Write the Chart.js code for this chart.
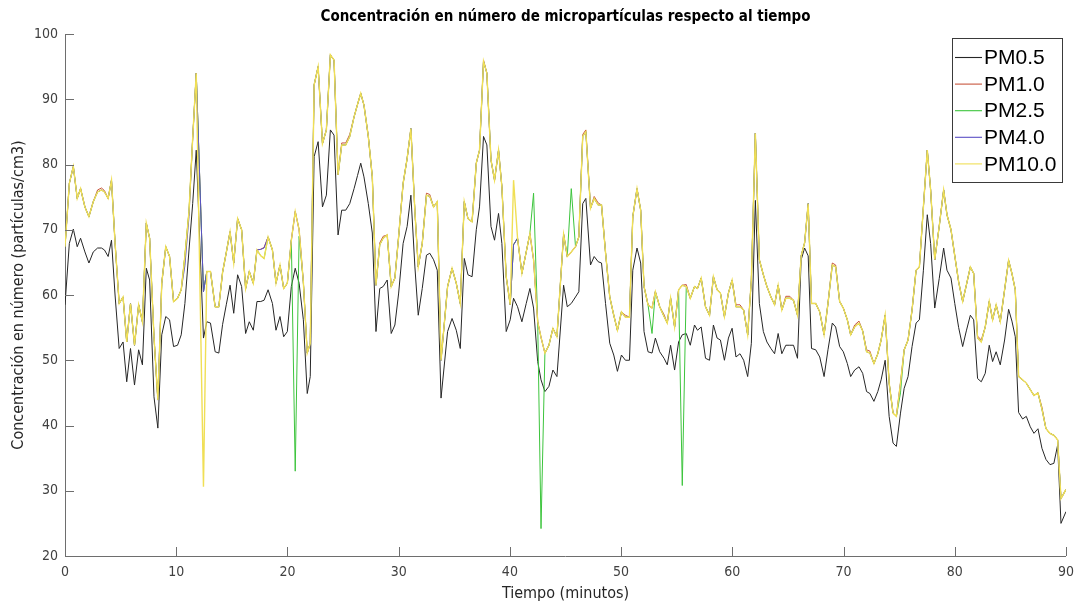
<!DOCTYPE html>
<html>
<head>
<meta charset="utf-8">
<script src="https://cdn.jsdelivr.net/npm/chart.js@4.4.1/dist/chart.umd.min.js"></script>
<style>
  html, body { margin: 0; padding: 0; background: #ffffff; }
  #wrap { width: 1082px; height: 605px; position: relative; }
</style>
</head>
<body>
<div id="wrap"><canvas id="chart" width="1082" height="605"></canvas></div>
<script>
// Sampling instants (minutes)
const minutes = [
  0.00, 0.39, 0.75, 1.10, 1.40, 1.79, 2.15, 2.54, 2.93, 3.28,
  3.55, 3.88, 4.18, 4.50, 4.87, 5.22, 5.55, 5.89, 6.25, 6.62,
  6.96, 7.31, 7.61, 8.00, 8.35, 8.70, 9.06, 9.40, 9.76, 10.12,
  10.45, 10.78, 11.15, 11.48, 11.80, 12.45, 12.75, 13.08, 13.50, 13.83,
  14.17, 14.50, 14.84, 15.17, 15.52, 15.88, 16.24, 16.57, 16.93, 17.26,
  17.60, 17.90, 18.26, 18.65, 18.97, 19.33, 19.66, 19.99, 20.35, 20.70,
  21.05, 21.43, 21.78, 22.05, 22.40, 22.76, 23.15, 23.50, 23.86, 24.19,
  24.55, 24.88, 25.24, 25.60, 25.99, 26.30, 26.59, 26.88, 27.27, 27.63,
  27.96, 28.30, 28.61, 28.97, 29.33, 29.66, 30.00, 30.40, 30.76, 31.10,
  31.46, 31.76, 32.12, 32.50, 32.80, 33.14, 33.47, 33.81, 34.40, 34.80,
  35.18, 35.54, 35.90, 36.23, 36.60, 36.98, 37.27, 37.63, 37.93, 38.30,
  38.62, 38.98, 39.28, 39.67, 40.03, 40.33, 40.69, 41.08, 41.47, 41.80,
  42.13, 42.50, 42.80, 43.15, 43.51, 43.87, 44.23, 44.83, 45.16, 45.52,
  45.90, 46.20, 46.55, 46.83, 47.25, 47.58, 47.94, 48.24, 48.60, 48.98,
  49.34, 49.67, 50.03, 50.39, 50.75, 51.05, 51.43, 51.76, 52.06, 52.42,
  52.78, 53.08, 53.47, 53.86, 54.15, 54.45, 54.81, 55.17, 55.50, 55.86,
  56.22, 56.60, 56.87, 57.20, 57.59, 57.95, 58.30, 58.63, 58.93, 59.29,
  59.65, 59.98, 60.33, 60.69, 61.02, 61.38, 61.71, 62.07, 62.43, 62.79,
  63.11, 63.47, 63.80, 64.12, 64.45, 64.81, 65.17, 65.50, 65.86, 66.19,
  66.50, 66.82, 67.12, 67.50, 67.86, 68.25, 68.60, 68.99, 69.29, 69.65,
  69.98, 70.34, 70.64, 71.00, 71.39, 71.72, 72.07, 72.37, 72.73, 73.08,
  73.38, 73.74, 74.10, 74.45, 74.75, 75.12, 75.45, 75.80, 76.16, 76.52,
  76.82, 77.18, 77.53, 77.83, 78.20, 78.60, 79.00, 79.30, 79.66, 80.00,
  80.35, 80.71, 81.04, 81.40, 81.70, 82.05, 82.38, 82.74, 83.10, 83.40,
  83.72, 84.09, 84.48, 84.84, 85.14, 85.44, 85.74, 86.10, 86.43, 86.79,
  87.12, 87.48, 87.84, 88.20, 88.56, 88.91, 89.25, 89.55, 90.00
];

// PM0.5 (particles/cm3)
const pm05 = [
  58.5, 67.9, 70.1, 67.4, 68.7, 66.6, 64.9, 66.6, 67.2, 67.2,
  66.9, 65.9, 68.4, 60.0, 51.8, 52.8, 46.7, 51.8, 46.2, 51.6,
  49.3, 64.1, 62.3, 44.4, 39.6, 53.9, 56.7, 56.2, 52.1, 52.3,
  53.9, 58.7, 66.9, 74.0, 82.2, 53.4, 55.9, 55.7, 51.3, 51.1,
  55.5, 58.5, 61.5, 57.2, 63.1, 61.3, 54.1, 55.9, 54.6, 59.0,
  59.0, 59.2, 60.8, 58.7, 54.6, 56.7, 53.6, 54.4, 61.3, 64.1,
  61.8, 56.2, 44.9, 47.5, 81.2, 83.5, 73.5, 75.3, 85.3, 84.5,
  69.2, 73.0, 73.0, 74.0, 76.3, 78.3, 80.2, 78.1, 74.0, 69.5,
  54.4, 61.0, 61.3, 62.3, 54.1, 55.4, 60.3, 67.9, 70.5, 75.3,
  64.3, 56.9, 61.0, 66.1, 66.4, 65.4, 63.8, 44.2, 54.4, 56.4,
  54.6, 51.8, 65.6, 63.1, 62.8, 70.0, 73.5, 84.3, 83.0, 70.5,
  68.4, 72.5, 67.9, 54.4, 56.2, 59.5, 58.2, 55.9, 58.7, 61.0,
  58.0, 49.8, 47.0, 45.2, 46.0, 48.5, 47.5, 61.5, 58.2, 58.7,
  59.7, 60.5, 74.0, 74.8, 64.6, 65.9, 65.1, 64.9, 58.7, 52.6,
  50.8, 48.3, 50.8, 50.0, 50.0, 63.8, 67.2, 64.9, 54.4, 51.3,
  51.1, 53.4, 51.3, 50.3, 49.3, 52.3, 48.5, 52.8, 53.9, 54.1,
  52.3, 55.4, 54.6, 55.1, 50.3, 50.0, 55.4, 53.4, 53.1, 50.0,
  53.4, 54.9, 50.5, 51.0, 50.0, 47.5, 52.6, 74.5, 58.7, 54.4,
  52.8, 51.8, 51.0, 54.1, 51.0, 52.3, 52.3, 52.3, 50.3, 65.4,
  67.2, 66.0, 51.8, 51.6, 50.5, 47.5, 51.6, 55.7, 55.1, 52.1,
  51.3, 49.5, 47.5, 48.5, 49.0, 48.0, 45.2, 44.9, 43.7, 45.2,
  47.0, 50.0, 41.4, 37.3, 36.8, 41.9, 45.7, 47.5, 52.1, 55.7,
  56.2, 63.8, 72.3, 67.9, 58.0, 62.5, 67.2, 63.8, 62.6, 58.7,
  55.0, 52.1, 54.5, 56.9, 56.2, 47.2, 46.7, 48.0, 52.3, 49.8,
  51.3, 49.3, 53.1, 57.8, 56.0, 53.6, 42.0, 41.0, 41.4, 39.8,
  38.8, 39.5, 36.5, 34.8, 34.0, 34.2, 37.0, 25.0, 26.8
];

// PM1.0
const pm10 = [
  67.4, 77.1, 79.7, 74.8, 76.3, 73.5, 72.0, 74.3, 76.1, 76.4,
  76.0, 74.8, 77.6, 68.0, 58.7, 59.7, 52.8, 58.7, 52.3, 58.5,
  55.9, 71.0, 68.7, 53.6, 43.9, 61.8, 67.4, 65.9, 59.0, 59.5,
  60.8, 66.0, 72.8, 84.0, 94.0, 60.5, 63.6, 63.6, 58.2, 58.2,
  63.5, 66.5, 69.7, 64.9, 71.7, 70.0, 61.0, 63.6, 61.8, 66.9,
  67.0, 67.3, 68.9, 66.9, 61.8, 64.6, 61.0, 61.8, 68.4, 72.8,
  70.0, 62.0, 51.1, 52.6, 92.2, 95.0, 83.2, 85.3, 96.8, 96.0,
  78.4, 83.3, 83.3, 84.6, 87.3, 89.2, 90.9, 89.1, 84.3, 78.1,
  61.5, 68.0, 69.0, 69.2, 61.3, 62.6, 69.0, 77.1, 80.9, 85.5,
  72.8, 64.3, 67.9, 75.6, 75.4, 73.5, 74.3, 50.0, 61.3, 64.1,
  61.8, 58.7, 74.3, 71.7, 71.2, 80.2, 82.2, 96.0, 94.0, 80.7,
  77.6, 82.2, 76.6, 62.8, 58.5, 67.7, 68.7, 63.3, 66.6, 69.4,
  65.4, 55.9, 53.5, 51.1, 52.3, 54.9, 53.6, 69.3, 65.9, 66.6,
  67.4, 68.9, 84.6, 85.3, 73.3, 75.1, 74.1, 73.8, 66.5, 59.7,
  56.9, 54.6, 57.4, 56.9, 56.6, 72.0, 76.3, 73.0, 61.3, 58.5,
  58.0, 60.5, 58.2, 57.0, 55.7, 59.5, 55.1, 60.8, 61.5, 61.6,
  59.5, 61.3, 61.0, 62.6, 58.2, 56.9, 62.8, 60.8, 60.3, 56.7,
  60.3, 62.3, 58.5, 58.5, 57.7, 53.9, 62.3, 84.8, 65.4, 63.1,
  61.3, 59.7, 58.5, 61.5, 57.7, 59.8, 59.8, 59.2, 56.9, 66.0,
  68.0, 74.0, 58.7, 58.7, 57.4, 53.9, 58.7, 64.9, 64.6, 59.0,
  58.0, 56.2, 53.9, 55.4, 56.0, 54.5, 51.6, 51.4, 49.5, 51.0,
  53.1, 56.9, 46.5, 41.9, 41.4, 46.5, 51.6, 53.1, 57.7, 63.8,
  64.3, 73.5, 82.2, 76.1, 65.4, 70.5, 76.1, 72.3, 70.0, 66.0,
  62.0, 59.0, 61.5, 64.3, 63.3, 53.7, 53.1, 55.1, 59.0, 56.2,
  58.5, 55.9, 60.8, 65.3, 63.3, 60.8, 47.5, 47.0, 46.5, 45.5,
  44.6, 45.0, 42.8, 39.5, 38.8, 38.5, 37.8, 28.8, 30.2
];

// PM2.5
const pm25 = [
  67.4, 77.1, 79.7, 74.8, 76.3, 73.5, 72.0, 74.3, 75.8, 76.1,
  75.8, 74.8, 77.6, 68.0, 58.7, 59.7, 52.8, 58.7, 52.3, 58.5,
  55.9, 71.0, 68.7, 53.6, 43.9, 61.8, 67.4, 65.9, 59.0, 59.5,
  60.8, 66.0, 72.8, 84.0, 94.0, 60.5, 63.6, 63.6, 58.2, 58.2,
  63.5, 66.5, 69.7, 64.9, 71.7, 70.0, 61.0, 63.6, 61.8, 66.9,
  66.0, 65.6, 68.9, 66.9, 61.8, 64.6, 61.0, 61.8, 68.4, 33.0,
  69.0, 62.0, 51.1, 52.6, 92.2, 95.0, 83.2, 85.3, 96.8, 96.0,
  78.4, 83.0, 83.0, 84.3, 87.3, 89.2, 90.9, 89.1, 84.3, 78.1,
  61.5, 67.7, 68.7, 69.2, 61.3, 62.6, 69.0, 77.1, 80.9, 85.5,
  72.8, 64.3, 67.9, 75.3, 75.1, 73.5, 74.3, 50.0, 61.3, 64.1,
  61.8, 58.7, 74.3, 71.7, 71.2, 80.2, 82.2, 95.8, 94.0, 80.7,
  77.6, 82.2, 76.6, 62.8, 58.5, 67.7, 68.7, 63.3, 66.6, 69.4,
  75.6, 55.9, 24.2, 51.1, 52.3, 54.9, 53.6, 69.3, 65.9, 76.3,
  67.4, 68.9, 84.3, 85.0, 73.3, 74.8, 73.8, 73.8, 66.5, 59.7,
  56.9, 54.6, 57.4, 56.6, 56.6, 72.0, 76.3, 73.0, 61.3, 58.5,
  54.1, 60.5, 58.2, 56.7, 55.7, 59.5, 55.1, 60.8, 30.8, 61.3,
  59.5, 61.3, 61.0, 62.6, 58.2, 56.9, 62.8, 60.8, 60.3, 56.7,
  60.3, 62.3, 58.2, 58.2, 57.7, 53.9, 62.3, 84.8, 65.4, 63.1,
  61.3, 59.7, 58.5, 61.5, 57.7, 59.5, 59.5, 59.2, 56.9, 66.0,
  68.0, 74.0, 58.7, 58.7, 57.4, 53.9, 58.7, 64.6, 64.3, 59.0,
  58.0, 56.2, 53.9, 55.1, 55.7, 54.5, 51.3, 51.1, 49.5, 51.0,
  53.1, 56.9, 46.5, 41.9, 41.4, 45.0, 51.6, 53.1, 57.7, 63.8,
  64.3, 73.5, 82.2, 76.1, 65.4, 70.5, 76.1, 72.3, 70.0, 66.0,
  62.0, 59.0, 61.5, 64.3, 63.3, 53.4, 52.8, 55.1, 59.0, 56.2,
  58.5, 55.9, 60.8, 65.3, 63.3, 60.8, 47.5, 47.0, 46.5, 45.5,
  44.6, 45.0, 42.5, 39.5, 38.8, 38.5, 37.8, 28.8, 30.2
];

// PM4.0
const pm40 = [
  67.4, 77.1, 79.7, 74.8, 76.3, 73.5, 72.0, 74.3, 75.8, 76.1,
  75.8, 74.8, 77.6, 68.0, 58.7, 59.7, 52.8, 58.7, 52.3, 58.5,
  55.9, 71.0, 68.7, 53.6, 43.9, 61.8, 67.4, 65.9, 59.0, 59.5,
  60.8, 64.5, 72.0, 84.0, 94.0, 60.5, 63.6, 63.6, 58.2, 58.2,
  63.5, 66.5, 69.7, 64.9, 71.7, 70.0, 61.0, 63.6, 61.8, 66.9,
  67.0, 67.2, 68.9, 66.9, 61.8, 64.6, 61.0, 61.8, 68.4, 72.8,
  70.0, 62.0, 51.1, 52.6, 92.2, 95.0, 83.2, 85.3, 96.8, 96.0,
  78.4, 83.0, 83.0, 84.3, 87.3, 89.2, 90.9, 89.1, 84.3, 78.1,
  61.5, 67.7, 68.7, 69.2, 61.3, 62.6, 69.0, 77.1, 80.9, 85.5,
  72.8, 64.3, 67.9, 75.3, 75.1, 73.5, 74.3, 50.0, 61.3, 64.1,
  61.8, 58.7, 74.3, 71.7, 71.2, 80.2, 82.2, 95.8, 94.0, 80.7,
  77.6, 82.2, 76.6, 62.8, 58.5, 67.7, 68.7, 63.3, 66.6, 69.4,
  65.4, 55.9, 53.5, 51.1, 52.3, 54.9, 53.6, 69.3, 65.9, 66.6,
  67.4, 68.9, 84.3, 85.0, 73.3, 74.8, 73.8, 73.8, 66.5, 59.7,
  56.9, 54.6, 57.4, 56.6, 56.6, 72.0, 76.3, 73.0, 61.3, 58.5,
  58.0, 60.5, 58.2, 56.7, 55.7, 59.5, 55.1, 60.8, 61.5, 61.3,
  59.5, 61.3, 61.0, 62.6, 58.2, 56.9, 62.8, 60.8, 60.3, 56.7,
  60.3, 62.3, 58.2, 58.2, 57.7, 53.9, 62.3, 84.8, 65.4, 63.1,
  61.3, 59.7, 58.5, 61.5, 57.7, 59.5, 59.5, 59.2, 56.9, 66.0,
  68.0, 74.0, 58.7, 58.7, 57.4, 53.9, 58.7, 64.6, 64.3, 59.0,
  58.0, 56.2, 53.9, 55.1, 55.7, 54.5, 51.3, 51.1, 49.5, 51.0,
  53.1, 56.9, 46.5, 41.9, 41.4, 46.5, 51.6, 53.1, 57.7, 63.8,
  64.3, 73.5, 82.2, 76.1, 65.4, 70.5, 76.1, 72.3, 70.0, 66.0,
  62.0, 59.0, 61.5, 64.3, 63.3, 53.4, 52.8, 55.1, 59.0, 56.2,
  58.5, 55.9, 60.8, 65.3, 63.3, 60.8, 47.5, 47.0, 46.5, 45.5,
  44.6, 45.0, 42.5, 39.5, 38.8, 38.5, 37.8, 28.8, 30.2
];

// PM10.0
const pm100 = [
  67.4, 77.1, 79.7, 74.8, 76.3, 73.5, 72.0, 74.3, 75.8, 76.1,
  75.8, 74.8, 77.6, 68.0, 58.7, 59.7, 52.8, 58.7, 52.3, 58.5,
  55.9, 71.0, 68.7, 53.6, 43.9, 61.8, 67.4, 65.9, 59.0, 59.5,
  60.8, 66.0, 72.8, 84.0, 94.0, 30.6, 63.6, 63.6, 58.2, 58.2,
  63.5, 66.5, 69.7, 64.9, 71.7, 70.0, 61.0, 63.6, 61.8, 66.9,
  66.0, 65.6, 68.9, 66.9, 61.8, 64.6, 61.0, 61.8, 68.4, 72.8,
  70.0, 62.0, 51.1, 52.6, 92.2, 95.0, 83.2, 85.3, 96.8, 96.0,
  78.4, 83.0, 83.0, 84.3, 87.3, 89.2, 90.9, 89.1, 84.3, 78.1,
  61.5, 67.7, 68.7, 69.2, 61.3, 62.6, 69.0, 77.1, 80.9, 85.5,
  72.8, 64.3, 67.9, 75.3, 75.1, 73.5, 74.3, 50.0, 61.3, 64.1,
  61.8, 58.7, 74.3, 71.7, 71.2, 80.2, 82.2, 95.8, 94.0, 80.7,
  77.6, 82.2, 76.6, 62.8, 58.5, 77.6, 68.7, 63.3, 66.6, 69.4,
  65.4, 55.9, 53.5, 51.1, 52.3, 54.9, 53.6, 69.3, 65.9, 66.6,
  67.4, 68.9, 84.3, 85.0, 73.3, 74.8, 73.8, 73.8, 66.5, 59.7,
  56.9, 54.6, 57.4, 56.6, 56.6, 72.0, 76.3, 73.0, 61.3, 58.5,
  58.0, 60.5, 58.2, 56.7, 55.7, 59.5, 55.1, 60.8, 61.5, 61.3,
  59.5, 61.3, 61.0, 62.6, 58.2, 56.9, 62.8, 60.8, 60.3, 56.7,
  60.3, 62.3, 58.2, 58.2, 57.7, 53.9, 62.3, 84.8, 65.4, 63.1,
  61.3, 59.7, 58.5, 61.5, 57.7, 59.5, 59.5, 59.2, 56.9, 66.0,
  68.0, 74.0, 58.7, 58.7, 57.4, 53.9, 58.7, 64.6, 64.3, 59.0,
  58.0, 56.2, 53.9, 55.1, 55.7, 54.5, 51.3, 51.1, 49.5, 51.0,
  53.1, 56.9, 46.5, 41.9, 41.4, 46.5, 51.6, 53.1, 57.7, 63.8,
  64.3, 73.5, 82.2, 76.1, 65.4, 70.5, 76.1, 72.3, 70.0, 66.0,
  62.0, 59.0, 61.5, 64.3, 63.3, 53.4, 52.8, 55.1, 59.0, 56.2,
  58.5, 55.9, 60.8, 65.3, 63.3, 60.8, 47.5, 47.0, 46.5, 45.5,
  44.6, 45.0, 42.5, 39.5, 38.8, 38.5, 37.8, 28.8, 30.2
];

const seriesNames = ['PM0.5', 'PM1.0', 'PM2.5', 'PM4.0', 'PM10.0'];
const seriesColors = ['#262626', '#c8553d', '#3cc43c', '#5a4fc4', '#f0df55'];
const seriesWidths = [1, 1, 1, 1, 1.4];
const xTicks = [0, 10, 20, 30, 40, 50, 60, 70, 80, 90];
const yTicks = [20, 30, 40, 50, 60, 70, 80, 90, 100];

const chartTitle = 'Concentración en número de micropartículas respecto al tiempo';
const xTitle = 'Tiempo (minutos)';
const yTitle = 'Concentración en número (partículas/cm3)';

const NARROW = "'Liberation Sans Narrow', 'DejaVu Sans Condensed', 'Liberation Sans', sans-serif";
const SANS = "'Liberation Sans', Arial, sans-serif";

const seriesValues = [pm05, pm10, pm25, pm40, pm100];
const datasets = seriesValues.map((vals, i) => ({
  label: seriesNames[i],
  data: minutes.map((t, j) => ({ x: t, y: vals[j] })),
  borderColor: seriesColors[i],
  backgroundColor: seriesColors[i],
  borderWidth: seriesWidths[i],
  pointRadius: 0,
  tension: 0,
  fill: false,
  // later series paint over earlier ones
  order: seriesNames.length - i
}));

// Title, axis titles, inward tick marks and the boxed legend
const decorations = {
  id: 'decorations',
  afterDraw(chart) {
    const { ctx, chartArea: a, scales } = chart;
    ctx.save();

    // inward tick marks
    ctx.strokeStyle = '#6e6e6e';
    ctx.lineWidth = 1;
    const tl = 9;
    xTicks.forEach(v => {
      const x = Math.round(scales.x.getPixelForValue(v)) + 0.5;
      ctx.beginPath(); ctx.moveTo(x, a.bottom); ctx.lineTo(x, a.bottom - tl); ctx.stroke();
    });
    yTicks.forEach(v => {
      const y = Math.round(scales.y.getPixelForValue(v)) + 0.5;
      ctx.beginPath(); ctx.moveTo(a.left, y); ctx.lineTo(a.left + tl, y); ctx.stroke();
    });

    const cx = (a.left + a.right) / 2;

    // chart title
    ctx.fillStyle = '#000000';
    ctx.font = 'bold 15px ' + NARROW;
    ctx.textAlign = 'center';
    ctx.textBaseline = 'middle';
    ctx.fillText(chartTitle, cx, 17);

    // axis titles
    ctx.fillStyle = '#262626';
    ctx.font = '16px ' + NARROW;
    ctx.fillText(xTitle, cx, 594);
    ctx.save();
    ctx.translate(19, (a.top + a.bottom) / 2);
    ctx.rotate(-Math.PI / 2);
    ctx.fillText(yTitle, 0, 0);
    ctx.restore();

    // legend box
    const bx = 952.5, by = 38.5, bw = 110, bh = 144;
    ctx.fillStyle = '#ffffff';
    ctx.fillRect(bx, by, bw, bh);
    ctx.strokeStyle = '#3a3a3a';
    ctx.strokeRect(bx, by, bw, bh);
    ctx.font = '21px ' + SANS;
    ctx.textAlign = 'left';
    ctx.textBaseline = 'middle';
    chart.data.datasets.forEach((ds, i) => {
      const y = 57.5 + i * 26.6;
      ctx.strokeStyle = ds.borderColor;
      ctx.lineWidth = 1.1;
      ctx.beginPath(); ctx.moveTo(955, y); ctx.lineTo(982, y); ctx.stroke();
      ctx.fillStyle = '#000000';
      ctx.fillText(ds.label, 984, y + 1);
    });
    ctx.restore();
  }
};

new Chart(document.getElementById('chart'), {
  type: 'line',
  data: { datasets },
  plugins: [decorations],
  options: {
    responsive: false,
    animation: false,
    devicePixelRatio: 1,
    layout: { padding: { top: 34, right: 13, left: 0, bottom: 0 } },
    plugins: { legend: { display: false }, title: { display: false }, tooltip: { enabled: false } },
    scales: {
      x: {
        type: 'linear', min: 0, max: 90,
        afterFit(scale) { scale.height = 49; },
        afterBuildTicks(scale) { scale.ticks = xTicks.map(v => ({ value: v })); },
        ticks: { color: '#404040', font: { family: NARROW, size: 14 }, padding: 8, maxRotation: 0, autoSkip: false },
        grid: { display: false, drawTicks: false },
        border: { display: true, color: '#6e6e6e', width: 1 }
      },
      y: {
        type: 'linear', min: 20, max: 100,
        afterFit(scale) { scale.width = 65; },
        afterBuildTicks(scale) { scale.ticks = yTicks.map(v => ({ value: v })); },
        ticks: { color: '#404040', font: { family: NARROW, size: 14 }, padding: 7, autoSkip: false },
        grid: { display: false, drawTicks: false },
        border: { display: true, color: '#6e6e6e', width: 1 }
      }
    }
  }
});
</script>
</body>
</html>
